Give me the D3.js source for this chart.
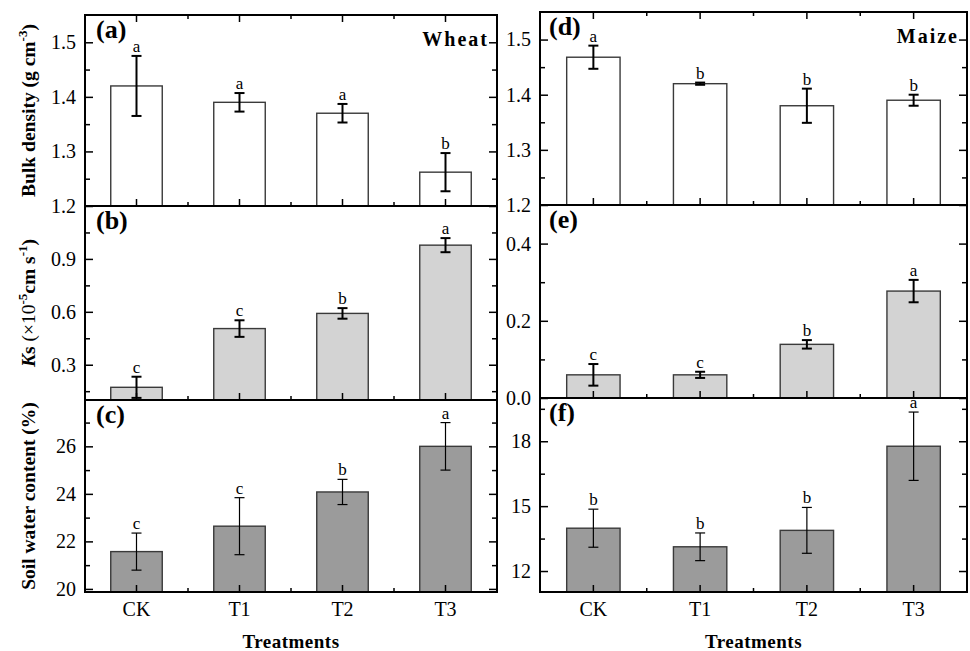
<!DOCTYPE html>
<html>
<head>
<meta charset="utf-8">
<script src="https://cdn.jsdelivr.net/npm/d3@7.9.0/dist/d3.min.js"></script>
<style>
  body { margin: 0; background: #fff; }
  svg { display: block; }
  svg text { font-family: "Liberation Serif", "Times New Roman", serif; }
</style>
</head>
<body>
<svg id="chart" width="970" height="651"></svg>
<script>
// treatments on the x axis
const treatments = ['CK', 'T1', 'T2', 'T3'];

// wheat
const wheatBulk = [1.42, 1.39, 1.37, 1.262];
const wheatBulkErr = [0.055, 0.017, 0.017, 0.035];
const wheatBulkSig = ['a', 'a', 'a', 'b'];
const wheatKs = [0.172, 0.505, 0.591, 0.978];
const wheatKsErr = [0.06, 0.047, 0.03, 0.04];
const wheatKsSig = ['c', 'c', 'b', 'a'];
const wheatSwc = [21.57, 22.64, 24.08, 26.0];
const wheatSwcErr = [0.78, 1.2, 0.53, 1.0];
const wheatSwcSig = ['c', 'c', 'b', 'a'];

// maize
const maizeBulk = [1.468, 1.42, 1.38, 1.39];
const maizeBulkErr = [0.021, 0.002, 0.031, 0.01];
const maizeBulkSig = ['a', 'b', 'b', 'b'];
const maizeKs = [0.06, 0.06, 0.139, 0.277];
const maizeKsErr = [0.028, 0.008, 0.011, 0.029];
const maizeKsSig = ['c', 'c', 'b', 'a'];
const maizeSwc = [13.98, 13.12, 13.88, 17.77];
const maizeSwcErr = [0.88, 0.64, 1.06, 1.58];
const maizeSwcSig = ['b', 'b', 'b', 'a'];

// axis ticks
const bulkTicks = [1.2, 1.3, 1.4, 1.5];
const bulkMinor = [1.25, 1.35, 1.45];
const wheatKsTicks = [0.3, 0.6, 0.9];
const wheatKsMinor = [0.15, 0.45, 0.75, 1.05];
const maizeKsTicks = [0.0, 0.2, 0.4];
const maizeKsMinor = [0.1, 0.3];
const wheatSwcTicks = [20, 22, 24, 26];
const wheatSwcMinor = [21, 23, 25, 27];
const maizeSwcTicks = [12, 15, 18];
const maizeSwcMinor = [13.5, 16.5, 19.5];

const svg = d3.select('#chart');

const cols = [
  { x0: 85, x1: 497, rows: [[15, 206], [206, 400], [400, 592]], title: 'Wheat', lx: 96 },
  { x0: 540, x1: 967, rows: [[12, 205], [205, 398], [398, 592]], title: 'Maize', lx: 549 }
];

const panels = [
  { tag: '(a)', col: 0, row: 0, v: wheatBulk, e: wheatBulkErr, s: wheatBulkSig, dom: [1.2, 1.55], major: bulkTicks, minor: bulkMinor, fmt: '.1f', fill: '#ffffff', ew: 2 },
  { tag: '(b)', col: 0, row: 1, v: wheatKs, e: wheatKsErr, s: wheatKsSig, dom: [0.1, 1.2], major: wheatKsTicks, minor: wheatKsMinor, fmt: '.1f', fill: '#d3d3d3', ew: 2 },
  { tag: '(c)', col: 0, row: 2, v: wheatSwc, e: wheatSwcErr, s: wheatSwcSig, dom: [19.87, 27.95], major: wheatSwcTicks, minor: wheatSwcMinor, fmt: 'd', fill: '#9b9b9b', ew: 1.2 },
  { tag: '(d)', col: 1, row: 0, v: maizeBulk, e: maizeBulkErr, s: maizeBulkSig, dom: [1.2, 1.55], major: bulkTicks, minor: bulkMinor, fmt: '.1f', fill: '#ffffff', ew: 2 },
  { tag: '(e)', col: 1, row: 1, v: maizeKs, e: maizeKsErr, s: maizeKsSig, dom: [0, 0.5], major: maizeKsTicks, minor: maizeKsMinor, fmt: '.1f', fill: '#d3d3d3', ew: 2 },
  { tag: '(f)', col: 1, row: 2, v: maizeSwc, e: maizeSwcErr, s: maizeSwcSig, dom: [11.03, 20], major: maizeSwcTicks, minor: maizeSwcMinor, fmt: 'd', fill: '#9b9b9b', ew: 1.2 }
];

panels.forEach(p => {
  const c = cols[p.col];
  const [top, bottom] = c.rows[p.row];
  const x = d3.scaleBand().domain(treatments).range([c.x0, c.x1])
    .paddingInner(0.5).paddingOuter(0.25);
  const y = d3.scaleLinear().domain(p.dom).range([bottom, top]);
  const g = svg.append('g');
  const rows = treatments.map((t, i) => ({ t, v: p.v[i], e: p.e[i], s: p.s[i] }));

  // bars
  g.selectAll('rect.bar').data(rows).enter().append('rect')
    .attr('x', d => x(d.t))
    .attr('y', d => y(d.v))
    .attr('width', x.bandwidth())
    .attr('height', d => bottom - y(d.v))
    .attr('fill', p.fill)
    .attr('stroke', '#3a3a3a')
    .attr('stroke-width', 1.4);

  // error bars
  const cx = d => x(d.t) + x.bandwidth() / 2;
  const eb = g.selectAll('g.err').data(rows).enter().append('g')
    .attr('stroke', '#000').attr('stroke-width', p.ew);
  eb.append('line').attr('x1', cx).attr('x2', cx)
    .attr('y1', d => y(d.v + d.e)).attr('y2', d => y(d.v - d.e));
  eb.append('line').attr('x1', d => cx(d) - 5).attr('x2', d => cx(d) + 5)
    .attr('y1', d => y(d.v + d.e)).attr('y2', d => y(d.v + d.e));
  eb.append('line').attr('x1', d => cx(d) - 5).attr('x2', d => cx(d) + 5)
    .attr('y1', d => y(d.v - d.e)).attr('y2', d => y(d.v - d.e));

  // significance letters
  g.selectAll('text.sig').data(rows).enter().append('text')
    .attr('x', cx).attr('y', d => y(d.v + d.e) - 4)
    .attr('text-anchor', 'middle')
    .attr('font-size', 17)
    .text(d => d.s);

  // y axes (ticks inward)
  const yl = g.append('g').attr('transform', `translate(${c.x0},0)`)
    .call(d3.axisLeft(y).tickValues(p.major).tickSize(-8).tickPadding(9).tickFormat(d3.format(p.fmt)));
  g.append('g').attr('transform', `translate(${c.x0},0)`)
    .call(d3.axisLeft(y).tickValues(p.minor).tickSize(-5).tickFormat(''));
  g.append('g').attr('transform', `translate(${c.x1},0)`)
    .call(d3.axisRight(y).tickValues(p.major).tickSize(-8).tickFormat(''));
  g.append('g').attr('transform', `translate(${c.x1},0)`)
    .call(d3.axisRight(y).tickValues(p.minor).tickSize(-5).tickFormat(''));
  yl.selectAll('text').attr('font-size', 20).attr('fill', '#000');

  // x axes
  const minorX = treatments.slice(0, 3).map(t => x(t) + x.bandwidth() / 2 + x.step() / 2);
  const xb = g.append('g').attr('transform', `translate(0,${bottom})`)
    .call(d3.axisBottom(x).tickSize(-7).tickPadding(10).tickFormat(p.row === 2 ? null : ''));
  xb.selectAll('text').attr('font-size', 20).attr('fill', '#000');
  g.append('g').selectAll('line').data(minorX).enter().append('line')
    .attr('x1', d => d).attr('x2', d => d)
    .attr('y1', bottom).attr('y2', bottom - 4)
    .attr('stroke', '#000').attr('stroke-width', 1.5);
  if (p.row === 0) {
    g.append('g').attr('transform', `translate(0,${top})`)
      .call(d3.axisTop(x).tickSize(-7).tickFormat(''));
    g.append('g').selectAll('line').data(minorX).enter().append('line')
      .attr('x1', d => d).attr('x2', d => d)
      .attr('y1', top).attr('y2', top + 4)
      .attr('stroke', '#000').attr('stroke-width', 1.5);
  }
  g.selectAll('.domain').remove();
  g.selectAll('.tick line').attr('stroke', '#000').attr('stroke-width', 1.5);

  // frame
  g.append('rect')
    .attr('x', c.x0).attr('y', top)
    .attr('width', c.x1 - c.x0).attr('height', bottom - top)
    .attr('fill', 'none').attr('stroke', '#000').attr('stroke-width', 2);

  // panel tag
  g.append('text').attr('x', c.lx).attr('y', top + 23)
    .attr('font-size', 26).attr('font-weight', 'bold').text(p.tag);

  if (p.row === 0) {
    g.append('text').attr('x', c.x1 - 8).attr('y', top + 31)
      .attr('text-anchor', 'end').attr('font-size', 20).attr('font-weight', 'bold')
      .attr('letter-spacing', 2).text(c.title);
  }
  if (p.row === 2) {
    g.append('text').attr('x', (c.x0 + c.x1) / 2).attr('y', 648)
      .attr('text-anchor', 'middle').attr('font-size', 19).attr('font-weight', 'bold')
      .attr('letter-spacing', 0.5).text('Treatments');
  }
});

// y axis titles (left column)
const rowsL = cols[0].rows;
function yTitle(row) {
  const cy = (rowsL[row][0] + rowsL[row][1]) / 2;
  return svg.append('text')
    .attr('transform', `translate(35,${cy}) rotate(-90)`)
    .attr('text-anchor', 'middle')
    .attr('font-size', 19.5).attr('font-weight', 'bold');
}

const t1 = yTitle(0);
t1.append('tspan').text('Bulk density (g cm');
t1.append('tspan').attr('font-size', 13).attr('dy', -8).text('-3');
t1.append('tspan').attr('dy', 8).text(')');

const t2 = yTitle(1);
t2.append('tspan').attr('font-style', 'italic').text('K');
t2.append('tspan').text('s');
t2.append('tspan').attr('font-weight', 'normal').text(' (×10');
t2.append('tspan').attr('font-size', 13).attr('dy', -8).text('-5');
t2.append('tspan').attr('dy', 8).text('cm s');
t2.append('tspan').attr('font-size', 13).attr('dy', -8).text('-1');
t2.append('tspan').attr('dy', 8).text(')');

const t3 = yTitle(2);
t3.text('Soil water content (%)');
</script>
</body>
</html>
